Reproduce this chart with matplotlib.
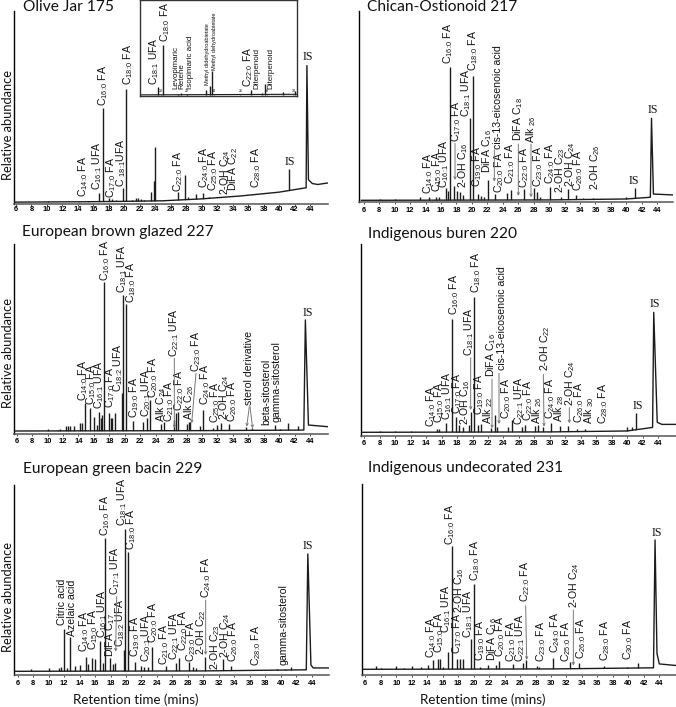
import re
import matplotlib
matplotlib.use('Agg')
import matplotlib.pyplot as plt

plt.rcParams['font.family'] = ['Liberation Sans', 'DejaVu Sans']
plt.rcParams['mathtext.default'] = 'regular'

ticks = list(range(6, 46, 2))

# --- Olive Jar 175
peak_t_175 = [10.2, 14.2, 15.3, 16.7, 17.2, 18.0, 18.4, 18.9, 19.8, 20.2, 21.0, 21.5, 21.8, 22.1, 22.6, 23.5, 23.8, 23.95, 25.0, 25.6, 27.0, 27.9, 28.2, 29.3, 30.2, 31.0, 36.8, 41.3]
peak_h_175 = [1.0, 0.8, 1.0, 4.9, 49.2, 2.3, 2.0, 1.6, 7.5, 59.3, 1.3, 2.2, 2.5, 1.8, 1.2, 5.4, 11.3, 29.2, 1.1, 1.2, 5.4, 14.4, 3.2, 4.5, 5.2, 3.0, 4.6, 17.4]
base_t_175 = [5.7, 15, 20, 25, 30, 35, 40, 43.5, 43.6, 43.8, 44.3, 45, 46.3]
base_y_175 = [0.3, 0.5, 0.7, 1.0, 2.0, 3.5, 5.5, 7.8, 71.5, 12, 10, 9.5, 10.3]
labels_175 = ['C14:0 FA', 'C16:1 UFA', 'C16:0 FA', 'C17:0 FA', 'C 18:1UFA', 'C18:0 FA', 'C22:0 FA', 'C24:0 FA', 'C25:0 FA', '2-OH C24', 'DiFA C22', 'C28:0 FA']
label_x_175 = [250, 290, 310, 332, 362, 384, 533, 612, 640, 675, 698, 768]
label_y_175 = [590, 570, 318, 595, 560, 255, 575, 565, 572, 585, 572, 565]

# inset of Olive Jar 175
inset_t = [19.8, 20.2, 21.3, 21.5, 22.0, 23.4, 23.75, 23.9, 26.8, 27.6, 27.85, 29.2, 30.1]
inset_h = [8.7, 53, 1.5, 2.5, 1.5, 6, 9.5, 25, 5, 2, 12, 3, 4]
inset_ticks = [20, 22, 24, 26, 28, 30]
inset_labels = ['C18:1 UFA', 'C18:0 FA', 'C22:0 FA']
inset_label_x = [463, 495, 745]
inset_label_y = [256, 125, 262]
inset_names = ['Levopimaric', 'Retene', 'Isopimaric acid', 'Diterpenoid', 'Diterpenoid']
inset_name_x = [527, 547, 570, 770, 812]
inset_name_y = [268, 268, 268, 268, 268]
inset_tiny = ['Methyl didehydroabietate', 'Methyl dehydroabietate']
inset_tiny_x = [621, 644]
inset_tiny_y = [255, 210]

# --- Chican-Ostionoid 217
peak_t_217 = [8.1, 10.0, 13.3, 14.5, 15.3, 15.7, 16.6, 16.9, 17.2, 17.7, 18.1, 18.4, 18.8, 19.7, 20.1, 20.8, 21.2, 21.6, 22.1, 23.0, 24.5, 25.0, 26.7, 28.0, 28.4, 28.8, 30.1, 31.6, 32.4, 33.5, 34.4, 35.7, 40.0, 41.1]
peak_h_217 = [0.8, 0.8, 1.6, 1.5, 2.0, 1.5, 6.3, 5.0, 70.6, 7.6, 5.0, 4.6, 2.8, 43.3, 65.7, 3.3, 2.5, 2.0, 10.7, 3.3, 3.6, 5.5, 6.0, 6.3, 4.5, 1.5, 7.2, 2.0, 6.0, 2.8, 1.0, 1.0, 1.6, 6.3]
base_t_217 = [5.7, 30, 40, 43.1, 43.25, 43.5, 46.2]
base_y_217 = [0.0, 0.2, 0.7, 1.6, 43.3, 3.3, 2.8]
labels_217 = ['C14:0 FA', 'C15:0 FA', 'C16:1 UFA', 'C16:0 FA', 'C17:0 FA', '2-OH C16', 'C18:1 UFA', 'C18:0 FA', 'C19:0 FA', 'DiFA C16', 'cis-13-eicosenoic acid', 'C20:0 FA', 'C21:0 FA', 'DiFA C18', 'C22:0 FA', 'Alk 26', 'C23:0 FA', 'C24:0 FA', '2-OH C23', '2-OH C24', 'C26:0 FA', '2-OH C26']
label_x_217 = [265, 290, 313, 325, 347, 370, 378, 399, 410, 442, 473, 478, 510, 533, 552, 573, 595, 630, 660, 690, 715, 765]
label_y_217 = [583, 575, 565, 192, 425, 565, 352, 212, 560, 520, 448, 578, 552, 422, 565, 430, 560, 552, 580, 560, 572, 570]

# --- European brown glazed 227
peak_t_227 = [10.1, 11.3, 11.6, 12.4, 12.6, 12.9, 13.4, 14.2, 14.4, 14.8, 15.5, 16.0, 16.4, 16.7, 16.9, 17.1, 17.3, 17.9, 18.2, 18.4, 18.8, 19.6, 19.8, 20.15, 21.1, 22.3, 22.9, 23.3, 24.7, 25.1, 26.4, 26.7, 26.95, 28.1, 28.3, 28.5, 29.7, 30.2, 31.4, 31.9, 32.5, 33.5, 35.7, 36.5, 38.6, 39.5, 40.1, 41.2, 42.4]
peak_h_227 = [1.0, 0.8, 1.0, 2.7, 2.7, 2.7, 2.5, 4.1, 4.5, 14.8, 12.1, 7.7, 3.0, 10.4, 7.0, 8.6, 80.0, 9.5, 6.8, 7.2, 9.8, 20.2, 72.9, 67.9, 5.4, 5.0, 6.8, 16.6, 3.6, 5.0, 5.9, 9.5, 10.4, 4.0, 5.0, 4.6, 2.7, 11.3, 1.5, 3.2, 4.5, 3.6, 2.0, 1.5, 0.8, 3.2, 1.0, 4.5, 2.9]
base_t_227 = [5.7, 30, 43.2, 43.4, 43.8, 46.3]
base_y_227 = [0.0, 0.2, 0.5, 59.5, 3.2, 2.3]
labels_227 = ['C14:0 FA', 'C15:0 FA', 'C16:1 UFA', 'C16:0 FA', 'C17:0 FA', 'C18:2 UFA', 'C18:1 UFA', 'C18:0 FA', 'C19:0 FA', 'C20:1 UFA', 'C20:0 FA', 'Alk C24', 'C21:0 FA', 'C22:1 UFA', 'C22:0 FA', 'Alk C26', 'C23:0 FA', 'C24:0 FA', 'C25:0 FA', '2-OH C24', 'C26:0 FA', 'sterol derivative', 'beta-sitosterol', 'gamma-sitosterol']
label_x_227 = [250, 273, 296, 315, 330, 355, 366, 393, 402, 437, 460, 482, 507, 523, 537, 566, 588, 614, 645, 672, 695, 746, 800, 829]
label_y_227 = [527, 540, 552, 168, 550, 500, 203, 235, 578, 577, 518, 590, 590, 395, 558, 585, 442, 540, 595, 585, 590, 540, 600, 590]

# --- Indigenous buren 220
peak_t_220 = [8.0, 10.0, 12.0, 15.4, 15.7, 16.6, 17.3, 17.9, 18.3, 18.8, 19.5, 19.75, 20.2, 20.7, 21.1, 22.4, 22.9, 23.2, 24.6, 25.1, 26.4, 26.8, 28.1, 28.5, 29.1, 30.2, 31.3, 32.4, 33.5, 34.6, 40.0, 40.6, 41.2]
peak_h_220 = [0.8, 0.8, 0.8, 1.6, 1.8, 4.8, 60.0, 8.3, 3.9, 2.7, 3.9, 11.0, 72.0, 3.9, 4.4, 2.1, 9.2, 3.0, 3.0, 6.5, 3.0, 3.9, 3.4, 3.9, 2.7, 4.8, 3.4, 3.4, 1.8, 1.8, 3.0, 2.7, 10.0]
base_t_220 = [5.7, 30, 40, 43.3, 43.45, 43.9, 44.5, 46.3]
base_y_220 = [0.0, 0.2, 0.7, 2.6, 63.7, 5.3, 4.2, 4.2]
labels_220 = ['C14:0 FA', 'C15:0 FA', 'C16:1 UFA', 'C16:0 FA', 'C17:0 FA', '2-OH C16', 'C18:1 UFA', 'C18:0 FA', 'C19:0 FA', 'Alk 22', 'DiFA C16', 'cis-13-eicosenoic acid', 'C20:0 FA', 'C22:1 UFA', 'C22:0 FA', 'Alk 26', '2-OH C22', 'C24:0 FA', 'Alk 28', '2-OH C24', 'C26:0 FA', 'Alk 30', 'C28:0 FA']
label_x_220 = [272, 296, 322, 341, 350, 375, 387, 407, 418, 443, 453, 485, 498, 537, 565, 590, 614, 630, 657, 690, 716, 748, 790]
label_y_220 = [605, 595, 585, 270, 567, 600, 393, 205, 570, 597, 455, 435, 582, 600, 588, 597, 438, 582, 590, 543, 595, 597, 597]

# --- European green bacin 229
peak_t_229 = [7.7, 10.1, 11.4, 11.6, 11.95, 12.4, 12.8, 13.4, 14.0, 14.8, 15.1, 15.6, 16.0, 16.7, 17.0, 17.3, 17.9, 18.3, 18.6, 19.7, 19.9, 20.2, 21.2, 21.9, 22.3, 22.9, 23.4, 25.2, 26.4, 26.9, 28.2, 28.7, 29.1, 30.2, 32.6, 33.6, 36.8, 39.5, 40.5, 41.3]
peak_h_229 = [1.3, 1.6, 1.6, 2.5, 22.7, 1.6, 18.6, 2.9, 3.4, 7.9, 4.0, 7.0, 6.6, 16.0, 4.3, 71.4, 7.0, 3.8, 4.3, 11.4, 76.4, 63.9, 5.2, 2.9, 2.5, 2.5, 13.2, 2.9, 4.3, 7.0, 4.8, 2.1, 1.6, 7.9, 6.4, 2.9, 0.8, 1.3, 1.1, 2.5]
base_t_229 = [5.7, 30, 43.3, 43.5, 43.9, 44.2, 46.3]
base_y_229 = [0.0, 0.2, 0.8, 63.0, 3.4, 1.8, 1.8]
labels_229 = ['Citric acid', 'Azelaic acid', 'C14:0 FA', 'C15:0 FA', 'C16:1 UFA', 'DiFA C17', 'C16:0 FA', 'C17:1 UFA', 'C18:2 UFA', 'C18:1 UFA', 'C18:0 FA', 'C19:0 FA', 'C20:1 UFA', 'C20:0 FA', 'C21:0 FA', 'C22:1 UFA', 'C22:0 FA', 'C23:0 FA', '2-OH C22', 'C24:0 FA', '2-OH C23', '2-OH C24', 'C26:0 FA', 'C28:0 FA', 'gamma-sitosterol']
label_x_229 = [185, 216, 252, 279, 305, 330, 314, 346, 361, 367, 393, 404, 437, 460, 492, 521, 548, 572, 602, 617, 646, 674, 700, 768, 851]
label_y_229 = [495, 527, 575, 570, 535, 590, 228, 405, 560, 198, 270, 592, 605, 550, 615, 600, 572, 605, 585, 415, 630, 595, 605, 617, 615]

# --- Indigenous undecorated 231
peak_t_231 = [7.4, 8.0, 10.0, 11.0, 12.1, 13.2, 14.1, 14.7, 15.4, 15.7, 16.1, 16.7, 17.2, 17.8, 18.2, 18.6, 19.7, 20.1, 20.8, 21.9, 22.9, 23.3, 25.1, 26.4, 26.8, 28.2, 28.5, 30.2, 32.4, 33.6, 36.8, 39.8, 41.3]
peak_h_231 = [1.8, 0.6, 1.8, 0.6, 1.8, 1.1, 2.3, 5.0, 5.8, 5.4, 1.5, 9.5, 66.5, 5.6, 5.4, 5.4, 16.4, 46.0, 1.1, 2.3, 2.3, 4.5, 2.9, 3.2, 5.0, 1.8, 1.4, 5.9, 3.8, 3.2, 1.8, 1.1, 3.2]
base_t_231 = [5.7, 30, 43.25, 43.45, 43.7, 44.0, 46.3]
base_y_231 = [0.0, 0.2, 0.8, 69.8, 8.6, 2.9, 2.0]
labels_231 = ['C14:0 FA', 'C15:0 FA', 'C16:1 UFA', 'C16:0 FA', 'C17:0 FA', '2-OH C16', 'C18:1 UFA', 'C18:0 FA', 'C19:0 FA', 'DiFA C16', 'C20:0 FA', 'C21:0 FA', 'C22:1 UFA', 'C22:0 FA', 'C23:0 FA', 'C24:0 FA', 'C25:0 FA', '2-OH C24', 'C26:0 FA', 'C28:0 FA', 'C30:0 FA']
label_x_231 = [272, 297, 318, 331, 350, 358, 385, 405, 421, 455, 480, 513, 540, 554, 604, 644, 678, 701, 722, 795, 865]
label_y_231 = [593, 578, 520, 255, 582, 460, 533, 363, 603, 603, 590, 605, 605, 425, 605, 578, 607, 445, 598, 602, 600]

# panels: title, peaks, trace, labels, IS text spots and gray leader arrows (crop zoom px)
# box is left, right, top, trace zero in picture px; gap is px from trace zero down to the x axis
panels = [
    dict(title='Olive Jar 175', t=peak_t_175, h=peak_h_175, bt=base_t_175, by=base_y_175,
         labels=labels_175, lx=label_x_175, ly=label_y_175,
         off=(0, 0), box=(13.7, 328, 11, 202.7), gap=1, pad=0.5, tick6=16.0, tick44=310.0, title_xy=(23, 7), ylab=125,
         is_xy=[(870, 503), (925, 190)], arrows=[]),
    dict(title='Chican-Ostionoid 217', t=peak_t_217, h=peak_h_217, bt=base_t_217, by=base_y_217,
         labels=labels_217, lx=label_x_217, ly=label_y_217,
         off=(340, 0), box=(359.3, 673, 11, 200.3), gap=2, pad=2, tick6=363.7, tick44=657.3, title_xy=(367, 7), ylab=None,
         is_xy=[(882, 562), (939, 348)],
         arrows=[(345, 430, 345, 540), (463, 450, 463, 545), (535, 432, 535, 588), (573, 432, 573, 592)]),
    dict(title='European brown glazed 227', t=peak_t_227, h=peak_h_227, bt=base_t_227, by=base_y_227,
         labels=labels_227, lx=label_x_227, ly=label_y_227,
         off=(0, 225), box=(14, 328, 244.3, 431), gap=3, pad=2, tick6=16.7, tick44=310.0, title_xy=(22, 232), ylab=353,
         is_xy=[(925, 282)],
         arrows=[(523, 400, 523, 610), (588, 445, 575, 595), (748, 545, 740, 605), (750, 545, 758, 610)]),
    dict(title='Indigenous buren 220', t=peak_t_220, h=peak_h_220, bt=base_t_220, by=base_y_220,
         labels=labels_220, lx=label_x_220, ly=label_y_220,
         off=(340, 225), box=(361, 676, 244, 432.3), gap=3.5, pad=2, tick6=364.3, tick44=658.0, title_xy=(368, 234), ylab=None,
         is_xy=[(893, 560), (944, 255)],
         arrows=[(392, 398, 392, 555), (456, 462, 456, 610), (477, 445, 477, 597), (610, 448, 612, 605), (688, 548, 688, 595)]),
    dict(title='European green bacin 229', t=peak_t_229, h=peak_h_229, bt=base_t_229, by=base_y_229,
         labels=labels_229, lx=label_x_229, ly=label_y_229,
         off=(0, 460), box=(14.5, 329, 485, 671.3), gap=4, pad=2, tick6=17.7, tick44=311.7, title_xy=(23, 469), ylab=597,
         is_xy=[(925, 275)],
         arrows=[(350, 410, 347, 575), (617, 420, 617, 585)]),
    dict(title='Indigenous undecorated 231', t=peak_t_231, h=peak_h_231, bt=base_t_231, by=base_y_231,
         labels=labels_231, lx=label_x_231, ly=label_y_231,
         off=(340, 460), box=(361.7, 676, 484, 669.3), gap=6, pad=2.3, tick6=365.3, tick44=659.3, title_xy=(368, 468), ylab=None,
         is_xy=[(951, 238)],
         arrows=[(557, 437, 560, 600), (700, 450, 700, 617)]),
]

W, H = 676, 707
GRAY = '#777777'
DARK = '#1c1c1c'


def subs(s):
    # chain numbers sit low and small, as in the source figure
    s = s.replace('C 18:1UFA', 'C $_{18\\!:\\!1}$UFA')
    s = re.sub(r'Alk (\d+)', r'Alk $_{\1}$', s)
    s = re.sub(r'C(\d+):(\d+)', r'C$_{\1\\!:\\!\2}$', s)
    return re.sub(r'C(\d+)', r'C$_{\1}$', s)


fig = plt.figure(figsize=(W / 100, H / 100), dpi=100)

for p in panels:
    left, right, top, zero = p['box']
    bottom = zero + p['gap']
    ymin = -p['gap'] * 100 / (zero - top)
    ax = fig.add_axes([left / W, 1 - bottom / H, (right - left) / W, (bottom - top) / H])
    scale = (p['tick44'] - p['tick6']) / 38
    ax.set_xlim(6 - (p['tick6'] - left) / scale, 6 + (right - p['tick6']) / scale)
    ax.set_ylim(ymin, 100)
    ax.vlines(p['t'], 0, p['h'], color=DARK, lw=1.0)
    ax.fill_between(p['bt'], ymin, p['by'], color='white', lw=0, zorder=2)
    ax.plot(p['bt'], p['by'], color=DARK, lw=1.0, zorder=3)
    ax.spines['top'].set_visible(False)
    ax.spines['right'].set_visible(False)
    ax.spines['left'].set_linewidth(1.0)
    ax.spines['bottom'].set_linewidth(1.1)
    ax.spines['bottom'].set_color('#555555')
    ax.set_xticks(ticks)
    ax.set_yticks([])
    ax.tick_params(axis='x', length=1.2, width=0.5, pad=p['pad'], labelsize=5.4)
    for lab in ax.get_xticklabels():
        lab.set_fontweight('bold')

# inset of the first panel
ins = fig.add_axes([140 / W, 1 - 96 / H, 157 / W, 96 / H], zorder=5)
ins.set_xlim(18.44, 30.27)
ins.set_ylim(-0.8, 100)
ins.vlines(inset_t, 0, inset_h, color=DARK, lw=1.0)
ins.plot([18.44, 30.27], [0.4, 1.0], color=DARK, lw=0.8)
ins.set_xticks(inset_ticks)
ins.set_yticks([])
ins.tick_params(axis='x', direction='in', length=1, width=0.4, pad=-5, labelsize=2.6)
for s in ins.spines.values():
    s.set_linewidth(1.0)
    s.set_color('#333333')

# overlay in picture pixels for all the text
over = fig.add_axes([0, 0, 1, 1], zorder=10)
over.set_xlim(0, W)
over.set_ylim(H, 0)
over.axis('off')

for p in panels:
    ox, oy = p['off']
    for s, x, y in zip(p['labels'], p['lx'], p['ly']):
        over.text(ox + x / 3, oy + y / 3, subs(s), rotation=90, ha='center', va='bottom', fontsize=7.6, color='#111111')
    for x, y in p['is_xy']:
        over.text(ox + x / 3, oy + y / 3, 'IS', ha='center', va='bottom', fontsize=8.6, family='Liberation Serif', color='#111111')
    for x0, y0, x1, y1 in p['arrows']:
        over.annotate('', xy=(ox + x1 / 3, oy + y1 / 3), xytext=(ox + x0 / 3, oy + y0 / 3),
                      arrowprops=dict(arrowstyle='->', color=GRAY, lw=0.7, mutation_scale=4, shrinkA=0, shrinkB=0))
    over.text(p['title_xy'][0], p['title_xy'][1], p['title'], ha='left', va='center', fontsize=11.2, family='Lato', color='#111111')
    if p['ylab']:
        over.text(8, p['ylab'], 'Relative abundance', rotation=90, ha='center', va='center', fontsize=9.3, family='Lato', color='#111111')

for s, x, y in zip(inset_labels, inset_label_x, inset_label_y):
    over.text(x / 3, y / 3, subs(s), rotation=90, ha='center', va='bottom', fontsize=7.4, color='#111111')
for s, x, y in zip(inset_names, inset_name_x, inset_name_y):
    over.text(x / 3, y / 3, s, rotation=90, ha='center', va='bottom', fontsize=5.8, color='#111111')
for s, x, y in zip(inset_tiny, inset_tiny_x, inset_tiny_y):
    over.text(x / 3, y / 3, s, rotation=90, ha='center', va='bottom', fontsize=4.0, color='#111111')

over.text(135.6, 700, 'Retention time (mins)', ha='center', va='center', fontsize=9.6, family='Lato', color='#111111')
over.text(483, 700, 'Retention time (mins)', ha='center', va='center', fontsize=9.6, family='Lato', color='#111111')

fig.savefig('out.png', dpi=100)
